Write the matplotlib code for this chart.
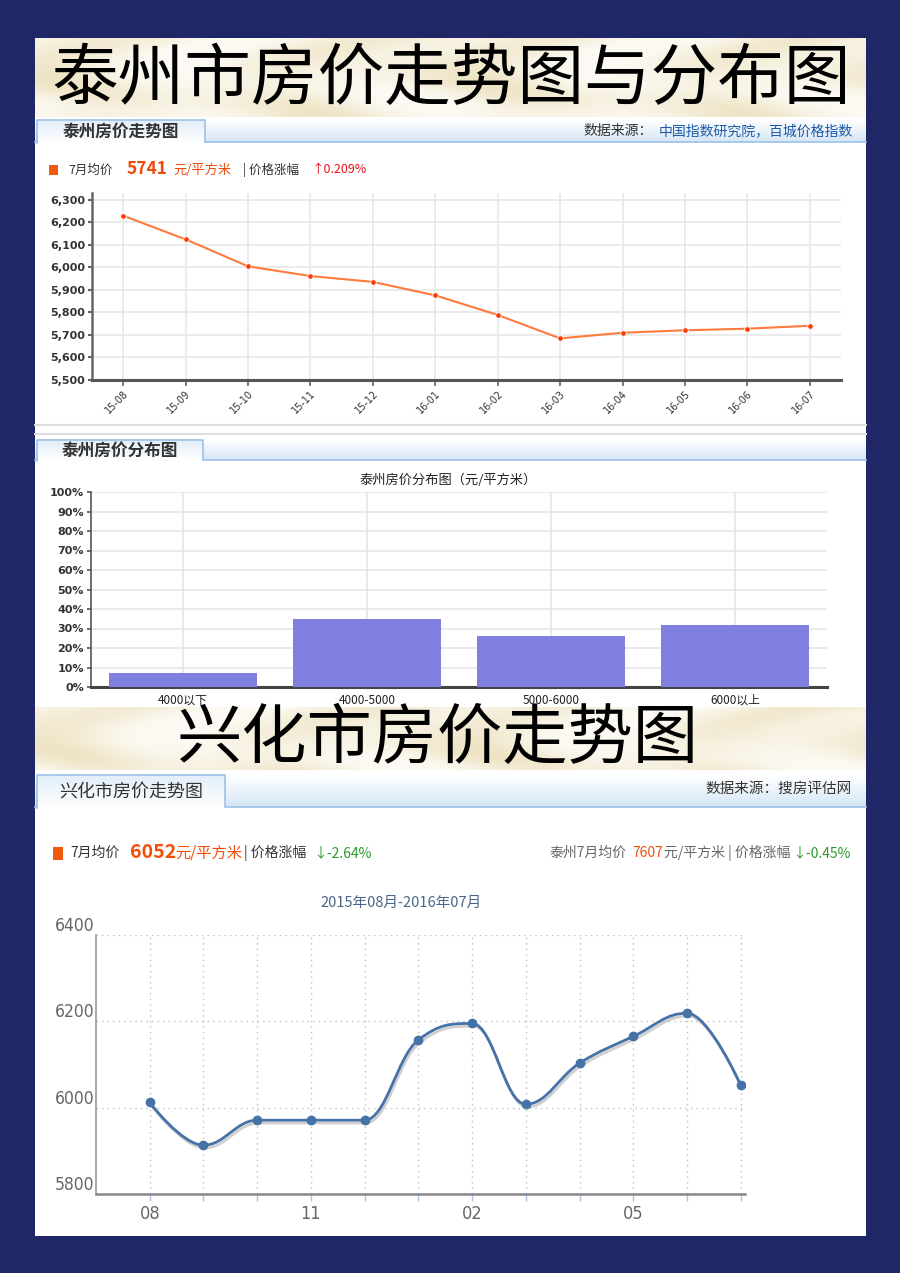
# 泰州 / 兴化 房价走势图与分布图
import numpy as np
import matplotlib
matplotlib.use('Agg')
import matplotlib.pyplot as plt
from matplotlib.path import Path
from matplotlib.patches import Rectangle, PathPatch
import matplotlib.patheffects as pe

plt.rcParams['font.family'] = ['Noto Sans CJK SC', 'DejaVu Sans']

# 泰州房价走势 (元/平方米)
tz_months = ['15-08', '15-09', '15-10', '15-11', '15-12', '16-01',
             '16-02', '16-03', '16-04', '16-05', '16-06', '16-07']
tz_price = [6230, 6125, 6005, 5962, 5936, 5876, 5789, 5685, 5710, 5721, 5728, 5741]

# 泰州房价分布 (%)
dist_labels = ['4000以下', '4000-5000', '5000-6000', '6000以上']
dist_pct = [7, 35, 26, 32]

# 兴化市房价走势
xh_months = ['08', '09', '10', '11', '12', '01', '02', '03', '04', '05', '06', '07']
xh_price = [6012, 5913, 5971, 5971, 5971, 6157, 6195, 6008, 6103, 6165, 6219, 6052]
xh_shown = ['08', '11', '02', '05']

W, H = 900, 1273
NAVY = '#1f2766'
fig = plt.figure(figsize=(W / 100, H / 100), dpi=100)
fig.patch.set_facecolor(NAVY)

bg = fig.add_axes([0, 0, 1, 1], zorder=0)
bg.set_xlim(0, W)
bg.set_ylim(H, 0)
bg.axis('off')


def px_axes(x0, y0, x1, y1):
    # pixel box -> figure axes
    return fig.add_axes([x0 / W, 1 - y1 / H, (x1 - x0) / W, (y1 - y0) / H], zorder=2)


# white panel
bg.add_patch(Rectangle((35, 38), 831, 1198, facecolor='white', edgecolor='none'))


def banner(y0, y1):
    # beige paper texture
    yy, xx = np.mgrid[0:int(y1 - y0), 0:831]
    t = np.sin(xx / 45.0 + 1.7 * np.sin(yy / 18.0)) * np.sin(yy / 30.0 + xx / 140.0)
    t = ((t + 1) / 2) ** 1.5
    light = np.array([252, 250, 243]) / 255
    dark = np.array([238, 227, 196]) / 255
    img = light + (dark - light) * t[..., None]
    bg.imshow(img, extent=(35, 866, y1, y0), aspect='auto', zorder=1)


def grad_rect(x0, x1, y0, y1, top, bottom, z=1):
    c0 = np.array(matplotlib.colors.to_rgb(top))
    c1 = np.array(matplotlib.colors.to_rgb(bottom))
    f = np.linspace(0, 1, 40)[:, None, None]
    img = c0 + (c1 - c0) * f
    img = np.repeat(img, 2, axis=1)
    bg.imshow(img, extent=(x0, x1, y1, y0), aspect='auto', zorder=z)


def tab_row(y0, y1, tab_x1, title, fs, weight):
    grad_rect(35, 866, y0, y1, '#ffffff', '#d5e6f6', z=1)
    bg.plot([35, 866], [y1, y1], color='#9cc2e6', lw=1.2, zorder=2)
    grad_rect(37, tab_x1, y0, y1 + 1, '#e2eef9', '#ffffff', z=3)
    bg.plot([37, 37, tab_x1, tab_x1], [y1 + 1, y0, y0, y1], color='#9cc2e6', lw=1.2, zorder=4)
    bg.text((37 + tab_x1) / 2, (y0 + y1) / 2 + 1, title, fontsize=fs, fontweight=weight,
            color='#333333', ha='center', va='center', zorder=5)


NARROW = dict(family='DejaVu Sans', fontstretch='condensed')

# ---- 顶部标题 ----
banner(38, 117)
bg.text(451, 80, '泰州市房价走势图与分布图', fontsize=48, color='black', fontweight='light',
        ha='center', va='center', zorder=3)

# ---- 泰州房价走势图 ----
tab_row(120, 142, 205, '泰州房价走势图', 12, 'bold')
bg.text(583, 131, '数据来源：', fontsize=10, color='#333333', ha='left', va='center', zorder=5)
bg.text(853, 131, '中国指数研究院，百城价格指数', fontsize=10, color='#1c5aa6',
        ha='right', va='center', zorder=5)

bg.add_patch(Rectangle((49, 165), 9, 10, facecolor='#f05a0e', edgecolor='none'))
bg.text(68, 170, '7月均价', fontsize=9, color='#333333', va='center')
bg.text(127, 169, '5741', fontsize=12.5, fontweight='bold', color='#f04a0a', va='center')
bg.text(173, 170, '元/平方米', fontsize=9.5, color='#f04a0a', va='center')
bg.text(243, 170, '| 价格涨幅', fontsize=9, color='#333333', va='center')
bg.text(312, 170, '↑0.209%', fontsize=9, color='#e8101a', va='center')

ax1 = px_axes(92, 193, 841, 380)
x1 = np.arange(len(tz_months))
ax1.plot(x1, tz_price, color='#ff7a3c', lw=1.5, marker='o', ms=4,
         markerfacecolor='#ff3a00', markeredgecolor='white', markeredgewidth=0.6, zorder=3)
ax1.set_xlim(-0.5, len(tz_months) - 0.5)
ax1.set_ylim(5500, 6331)
ax1.set_yticks(range(5500, 6301, 100))
ax1.set_yticklabels([f'{v:,}' for v in range(5500, 6301, 100)],
                    fontsize=8, fontweight='bold', color='#333333', family='DejaVu Sans')
ax1.set_xticks(x1)
ax1.set_xticklabels(tz_months, rotation=45, ha='right', rotation_mode='anchor',
                    fontsize=7, color='#333333', family='DejaVu Sans')
ax1.grid(True, color='#e9e9e9', lw=1.3)
ax1.set_axisbelow(True)
for s in ['top', 'right']:
    ax1.spines[s].set_visible(False)
ax1.spines['left'].set_color('#666666')
ax1.spines['left'].set_linewidth(1.8)
ax1.spines['bottom'].set_color('#555555')
ax1.spines['bottom'].set_linewidth(2.2)
ax1.tick_params(axis='y', length=3, width=1.5, color='#666666', pad=2)
ax1.tick_params(axis='x', length=4, width=1.2, color='#666666', pad=2)

# 分隔线
bg.plot([35, 866], [425, 425], color='#dddddd', lw=1.5, zorder=2)
bg.plot([35, 866], [434, 434], color='#dddddd', lw=1.5, zorder=2)

# ---- 泰州房价分布图 ----
tab_row(440, 460, 203, '泰州房价分布图', 12, 'bold')
bg.text(448, 480, '泰州房价分布图（元/平方米）', fontsize=9.5, color='#222222',
        ha='center', va='center')

ax2 = px_axes(91, 492, 827, 687)
x2 = np.arange(len(dist_labels))
ax2.bar(x2, dist_pct, width=0.8, color='#8080e0', edgecolor='none', zorder=3)
ax2.set_xlim(-0.5, len(dist_labels) - 0.5)
ax2.set_ylim(0, 100)
ax2.set_yticks(range(0, 101, 10))
ax2.set_yticklabels([f'{v}%' for v in range(0, 101, 10)], fontsize=8,
                    fontweight='bold', color='#333333', family='DejaVu Sans')
ax2.set_xticks(x2)
ax2.set_xticklabels(dist_labels, fontsize=8.5, color='#222222')
ax2.grid(True, color='#e6e6e6', lw=1.2)
ax2.set_axisbelow(True)
for s in ['top', 'right']:
    ax2.spines[s].set_visible(False)
ax2.spines['left'].set_color('#555555')
ax2.spines['left'].set_linewidth(1.2)
ax2.spines['bottom'].set_color('#444444')
ax2.spines['bottom'].set_linewidth(2.2)
ax2.tick_params(axis='y', length=3, width=1.2, color='#555555', pad=2)
ax2.tick_params(axis='x', length=0, pad=5)

# ---- 兴化市房价走势图 ----
banner(707, 770)
bg.text(437, 740, '兴化市房价走势图', fontsize=47, color='black', fontweight='light',
        ha='center', va='center', zorder=3)

tab_row(775, 807, 225, '兴化市房价走势图', 13, 'normal')
bg.text(852, 789, '数据来源：搜房评估网', fontsize=10.5, color='#333333',
        ha='right', va='center', zorder=5)

bg.add_patch(Rectangle((53, 847), 10, 13, facecolor='#f05a0e', edgecolor='none'))
bg.text(70, 853, '7月均价', fontsize=10, color='#333333', va='center')
bg.text(130, 852, '6052', fontsize=14, fontweight='bold', color='#f0500a', va='center')
bg.text(175, 853, '元/平方米', fontsize=11, color='#f0500a', va='center')
bg.text(244, 853, '| 价格涨幅', fontsize=10, color='#333333', va='center')
bg.text(313, 853, '↓-2.64%', fontsize=10, color='#2a9a2a', va='center')
bg.text(549, 853, '泰州7月均价', fontsize=10, color='#666666', va='center')
bg.text(632, 853, '7607', fontsize=10, color='#f0500a', va='center')
bg.text(664, 853, '元/平方米 | 价格涨幅', fontsize=10, color='#666666', va='center')
bg.text(851, 853, '↓-0.45%', fontsize=10, color='#2a9a2a', va='center', ha='right')

bg.text(401, 903, '2015年08月-2016年07月', fontsize=10.5, color='#4a6688',
        ha='center', va='center')


def spline_path(xs, ys, sm=1.5):
    # highcharts style spline control points
    n = len(xs)
    lc, rc = [None] * n, [None] * n
    dn = sm + 1
    for i in range(1, n - 1):
        px, py = xs[i], ys[i]
        lx, ly = xs[i - 1], ys[i - 1]
        nx, ny = xs[i + 1], ys[i + 1]
        lcx, lcy = (sm * px + lx) / dn, (sm * py + ly) / dn
        rcx, rcy = (sm * px + nx) / dn, (sm * py + ny) / dn
        corr = (rcy - lcy) * (rcx - px) / (rcx - lcx) + py - rcy
        lcy += corr
        rcy += corr
        if lcy > ly and lcy > py:
            lcy = max(ly, py); rcy = 2 * py - lcy
        elif lcy < ly and lcy < py:
            lcy = min(ly, py); rcy = 2 * py - lcy
        if rcy > ny and rcy > py:
            rcy = max(ny, py); lcy = 2 * py - rcy
        elif rcy < ny and rcy < py:
            rcy = min(ny, py); lcy = 2 * py - rcy
        lc[i], rc[i] = (lcx, lcy), (rcx, rcy)
    verts, codes = [(xs[0], ys[0])], [Path.MOVETO]
    for i in range(1, n):
        c1 = rc[i - 1] if rc[i - 1] else (xs[i - 1], ys[i - 1])
        c2 = lc[i] if lc[i] else (xs[i], ys[i])
        verts += [c1, c2, (xs[i], ys[i])]
        codes += [Path.CURVE4] * 3
    return Path(verts, codes)


ax3 = px_axes(96, 935, 745, 1194)
x3 = np.arange(len(xh_months))
line = PathPatch(spline_path(list(x3), xh_price), fill=False, edgecolor='#4572a7',
                 lw=2, transform=ax3.transData, zorder=3)
line.set_path_effects([pe.SimpleLineShadow(offset=(1, -2), shadow_color='#777777', alpha=0.35),
                       pe.Normal()])
ax3.add_patch(line)
ax3.plot(x3, xh_price, 'o', color='#4572a7', ms=6, zorder=4)
ax3.set_xlim(-1.0, 11.08)
ax3.set_ylim(5800, 6400)
ax3.set_yticks([5800, 6000, 6200, 6400])
ax3.set_yticklabels(['5800', '6000', '6200', '6400'], fontsize=12.5, color='#666666', **NARROW)
for t in ax3.get_yticklabels():
    t.set_va('bottom')
ax3.set_xticks(x3)
ax3.set_xticklabels([m if m in xh_shown else '' for m in xh_months], fontsize=13,
                    color='#666666', **NARROW)
ax3.grid(True, color='#b8c0cc', lw=1, linestyle=(0, (1, 3)))
ax3.set_axisbelow(True)
for s in ['top', 'right']:
    ax3.spines[s].set_visible(False)
ax3.spines['left'].set_color('#999999')
ax3.spines['left'].set_linewidth(1.2)
ax3.spines['bottom'].set_color('#888888')
ax3.spines['bottom'].set_linewidth(1.8)
ax3.tick_params(axis='y', length=0, pad=1)
ax3.tick_params(axis='x', length=5, width=1, color='#a8c4e0', pad=3)

fig.savefig('out.png', dpi=100, facecolor=fig.get_facecolor())
